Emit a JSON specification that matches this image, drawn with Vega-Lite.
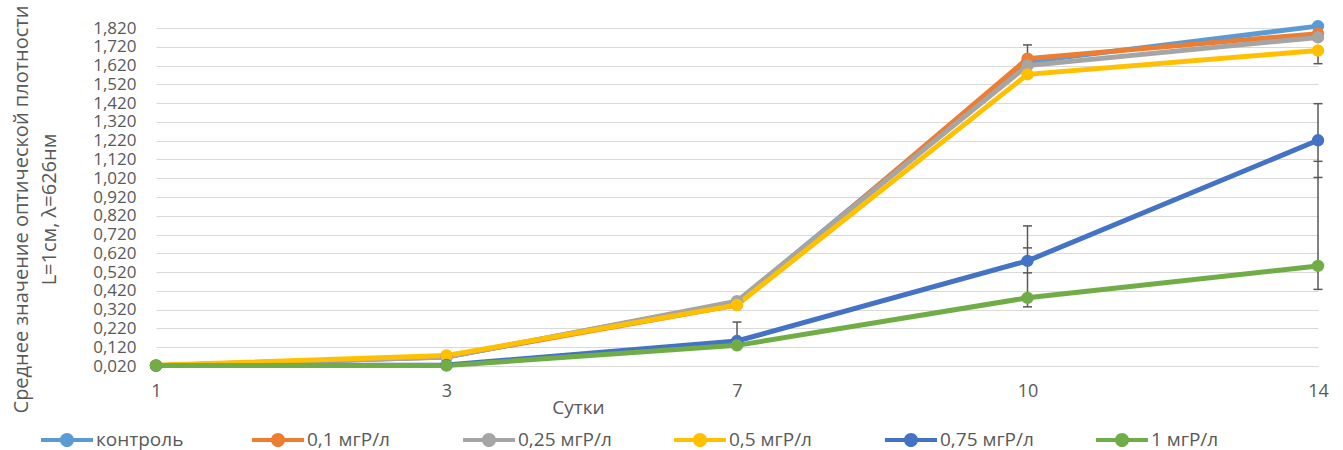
{
  "$schema": "https://vega.github.io/schema/vega-lite/v6.json",
  "width": 1162,
  "height": 338,
  "autosize": {"type": "none"},
  "padding": {"left": 156, "top": 28, "right": 25, "bottom": 84},
  "background": "white",
  "config": {
    "font": "Open Sans",
    "view": {"stroke": null}
  },
  "datasets": {
    "main": [
      {"day": 1, "series": "контроль", "value": 0.022},
      {"day": 3, "series": "контроль", "value": 0.068},
      {"day": 7, "series": "контроль", "value": 0.36},
      {"day": 10, "series": "контроль", "value": 1.64},
      {"day": 14, "series": "контроль", "value": 1.83},
      {"day": 1, "series": "0,1 мгР/л", "value": 0.022},
      {"day": 3, "series": "0,1 мгР/л", "value": 0.07},
      {"day": 7, "series": "0,1 мгР/л", "value": 0.345},
      {"day": 10, "series": "0,1 мгР/л", "value": 1.657},
      {"day": 14, "series": "0,1 мгР/л", "value": 1.79},
      {"day": 1, "series": "0,25 мгР/л", "value": 0.022},
      {"day": 3, "series": "0,25 мгР/л", "value": 0.068},
      {"day": 7, "series": "0,25 мгР/л", "value": 0.365},
      {"day": 10, "series": "0,25 мгР/л", "value": 1.62},
      {"day": 14, "series": "0,25 мгР/л", "value": 1.77},
      {"day": 1, "series": "0,5 мгР/л", "value": 0.024},
      {"day": 3, "series": "0,5 мгР/л", "value": 0.076},
      {"day": 7, "series": "0,5 мгР/л", "value": 0.345},
      {"day": 10, "series": "0,5 мгР/л", "value": 1.573},
      {"day": 14, "series": "0,5 мгР/л", "value": 1.7},
      {"day": 1, "series": "0,75 мгР/л", "value": 0.022},
      {"day": 3, "series": "0,75 мгР/л", "value": 0.025},
      {"day": 7, "series": "0,75 мгР/л", "value": 0.153},
      {"day": 10, "series": "0,75 мгР/л", "value": 0.58},
      {"day": 14, "series": "0,75 мгР/л", "value": 1.222},
      {"day": 1, "series": "1 мгР/л", "value": 0.022},
      {"day": 3, "series": "1 мгР/л", "value": 0.022},
      {"day": 7, "series": "1 мгР/л", "value": 0.13},
      {"day": 10, "series": "1 мгР/л", "value": 0.383},
      {"day": 14, "series": "1 мгР/л", "value": 0.553}
    ],
    "err": [
      {"day": 7, "value": 0.153, "hi": 0.254},
      {"day": 10, "value": 1.64, "hi": 1.73},
      {"day": 10, "value": 0.335, "hi": 0.766},
      {"day": 14, "value": 1.63, "hi": 1.7},
      {"day": 14, "value": 0.428, "hi": 1.417}
    ],
    "caps": [
      {"day": 7, "value": 0.254},
      {"day": 10, "value": 1.73},
      {"day": 10, "value": 0.766},
      {"day": 10, "value": 0.649},
      {"day": 10, "value": 0.516},
      {"day": 10, "value": 0.335},
      {"day": 14, "value": 1.63},
      {"day": 14, "value": 1.417},
      {"day": 14, "value": 1.11},
      {"day": 14, "value": 1.024},
      {"day": 14, "value": 0.428}
    ]
  },
  "encoding": {
    "x": {
      "field": "day",
      "type": "ordinal",
      "sort": [1, 3, 7, 10, 14],
      "scale": {"type": "point", "padding": 0},
      "axis": {
        "title": "Сутки",
        "titleFontSize": 19,
        "titleFontWeight": "normal",
        "titleColor": "#595959",
        "titleX": 422,
        "titleY": 41,
        "titleAlign": "center",
        "titleBaseline": "middle",
        "labelAngle": 0,
        "labelFontSize": 18,
        "labelColor": "#595959",
        "labelPadding": 16,
        "ticks": false,
        "domain": true,
        "domainColor": "#D9D9D9",
        "grid": false
      }
    },
    "y": {
      "field": "value",
      "type": "quantitative",
      "scale": {"domain": [0.02, 1.82], "nice": false, "zero": false},
      "axis": {
        "values": [0.02, 0.12, 0.22, 0.32, 0.42, 0.52, 0.62, 0.72, 0.82, 0.92, 1.02, 1.12, 1.22, 1.32, 1.42, 1.52, 1.62, 1.72, 1.82],
        "labelExpr": "replace(format(datum.value, '.3f'), '.', ',')",
        "labelFontSize": 17,
        "labelColor": "#595959",
        "labelPadding": 20,
        "labelOverlap": false,
        "labelBound": false,
        "labelFlush": false,
        "ticks": false,
        "domain": false,
        "grid": true,
        "gridColor": "#D9D9D9",
        "gridWidth": 1.2,
        "title": ["Среднее значение оптической плотности", "L=1см, λ=626нм"],
        "titleFontSize": 20,
        "titleFontWeight": "normal",
        "titleColor": "#595959",
        "titleLineHeight": 28,
        "titleX": -135,
        "titleY": 181,
        "titleAngle": 270,
        "titleAlign": "center",
        "titleBaseline": "middle"
      }
    }
  },
  "layer": [
    {
      "data": {"name": "err"},
      "mark": {"type": "rule", "color": "#595959", "strokeWidth": 1.5},
      "encoding": {
        "y2": {"field": "hi"}
      }
    },
    {
      "data": {"name": "caps"},
      "mark": {"type": "tick", "orient": "horizontal", "color": "#595959", "size": 9, "thickness": 1.5, "opacity": 1}
    },
    {
      "data": {"name": "main"},
      "mark": {"type": "line", "strokeWidth": 5, "point": {"filled": true, "size": 154, "opacity": 1}},
      "encoding": {
        "color": {
          "field": "series",
          "type": "nominal",
          "scale": {
            "domain": ["контроль", "0,1 мгР/л", "0,25 мгР/л", "0,5 мгР/л", "0,75 мгР/л", "1 мгР/л"],
            "range": ["#5B9BD5", "#ED7D31", "#A5A5A5", "#FFC000", "#4472C4", "#70AD47"]
          },
          "legend": {
            "title": null,
            "orient": "none",
            "legendX": -102,
            "legendY": 399,
            "direction": "horizontal",
            "columns": 6,
            "gridAlign": "all",
            "columnPadding": 62,
            "padding": 0,
            "symbolType": "M-2,-0.15 L2,-0.15 L2,0.15 L-2,0.15 Z M-0.54,0 A0.54,0.54 0 1 1 0.54,0 A0.54,0.54 0 1 1 -0.54,0 Z",
            "symbolSize": 676,
            "symbolStrokeWidth": 0,
            "labelFontSize": 19,
            "labelColor": "#595959",
            "labelOffset": 16,
            "labelLimit": 300,
            "encode": {
              "symbols": {
                "update": {
                  "fill": {"scale": "color", "field": "value"},
                  "fillOpacity": {"value": 1},
                  "strokeWidth": {"value": 0}
                }
              }
            }
          }
        },
        "order": {"field": "day", "type": "ordinal"}
      }
    }
  ]
}
